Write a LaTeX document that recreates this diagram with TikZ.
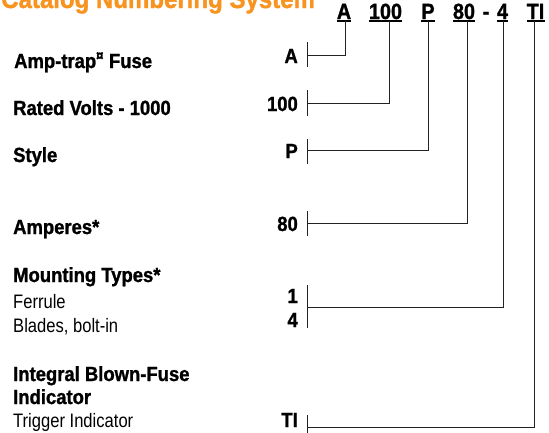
\documentclass[tikz,border=0pt]{standalone}
\usepackage{fontspec}
\setmainfont{Liberation Sans}
\newfontfamily\boldcond{Liberation Sans}[FakeStretch=0.9,
  BoldFeatures={FakeBold=1.2}]
\newfontfamily\lightcond{Liberation Sans}[FakeStretch=0.85]
\usetikzlibrary{calc}
\definecolor{cTitle}{HTML}{F7931E}
\definecolor{cLine}{HTML}{222222}

\begin{document}
\begin{tikzpicture}[
  x=1pt, y=-1pt,
  head/.style={anchor=base west, inner sep=0pt,
               font=\boldcond\bfseries\fontsize{20.5}{24}\selectfont},
  sub/.style={anchor=base west, inner sep=0pt,
              font=\lightcond\fontsize{19.5}{24}\selectfont},
  code/.style={anchor=base, inner sep=0pt,
               font=\boldcond\bfseries\fontsize{22}{24}\selectfont},
  val/.style={anchor=base east, inner sep=0pt,
              font=\boldcond\bfseries\fontsize{20.5}{24}\selectfont},
  link/.style={draw=cLine, line width=1pt},
  uline/.style={draw=black, line width=1.6pt},
]
\useasboundingbox (0,0) rectangle (549,432);

% ---- Title ---------------------------------------------------------------
\node[anchor=base west, inner sep=0pt, text=cTitle,
      font=\boldcond\bfseries\fontsize{26.7}{30}\selectfont]
      (title) at (1,8) {Catalog Numbering System};

% ---- Catalog number, one node per field ---------------------------------
\node[code] (hA)    at (344,19)   {A};
\node[code] (h100)  at (385.5,19) {100};
\node[code] (hP)    at (428,19)   {P};
\node[code] (h80)   at (464,19)   {80};
\node[code] (hDash) at (486,19)   {-};
\node[code] (h4)    at (502.5,19) {4};
\node[code] (hTI)   at (535.5,19) {TI};
\foreach \c in {hA, h100, hP, h80, h4, hTI}
  \draw[uline] ($(\c.base west)+(0,2)$) -- ($(\c.base east)+(0,2)$);

% ---- Field descriptions (left) -------------------------------------------
\node[head] (lFuse)    at (14,68)  {Amp-trap\textsuperscript{¤}\ Fuse};
\node[head] (lVolts)   at (13,115) {Rated Volts - 1000};
\node[head] (lStyle)   at (13,162) {Style};
\node[head] (lAmps)    at (13,234) {Amperes*};
\node[head] (lMount)   at (13,282) {Mounting Types*};
\node[sub]  (lFerrule) at (13,308) {Ferrule};
\node[sub]  (lBlades)  at (13,332) {Blades, bolt-in};
\node[head] (lIndic)   at (13,381) {Integral Blown-Fuse};
\node[head] (lIndicB)  at (13,404) {Indicator};
\node[sub]  (lTrigger) at (13,427) {Trigger Indicator};

% ---- Field values -------------------------------------------------------
\node[val] (vA)   at (298,63)  {A};
\node[val] (v100) at (298,111) {100};
\node[val] (vP)   at (298,158) {P};
\node[val] (v80)  at (298,231) {80};
\node[val] (v1)   at (298,303) {1};
\node[val] (v4)   at (298,327) {4};
\node[val] (vTI)  at (298,427) {TI};

% ticks beside the values
\coordinate (tA)   at (307,55);
\coordinate (t100) at (307,103);
\coordinate (tP)   at (307,150);
\coordinate (t80)  at (307,223);
\coordinate (t4)   at (307,307);
\coordinate (tTI)  at (307,427);
\foreach \t/\up/\dn in {tA/13/12, t100/13/13, tP/11/14, t80/12/13,
                        t4/22/21, tTI/12/14}
  \draw[link] ($(\t)+(0,-\up)$) -- ($(\t)+(0,\dn)$);

% ---- Connectors: field -> value ------------------------------------------
\foreach \h/\t/\dx in {hA/tA/1, h100/t100/4, hP/tP/0, h80/t80/3,
                       h4/t4/0.5, hTI/tTI/-1.5}
  \draw[link] ($(\h.base)+(\dx,2)$) |- (\t);

\end{tikzpicture}
\end{document}
